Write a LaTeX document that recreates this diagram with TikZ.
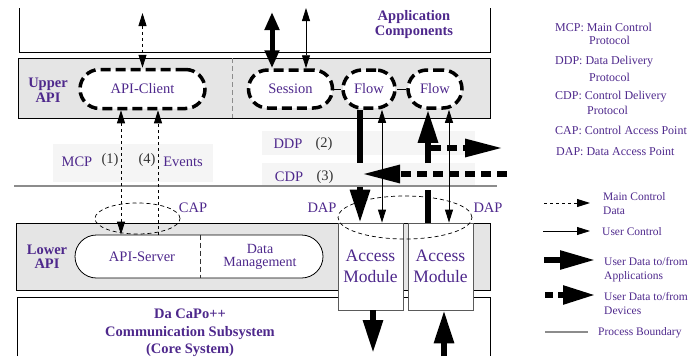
\documentclass[tikz,border=0pt]{standalone}
\usepackage{fontspec}
\setmainfont{Liberation Serif}
\usetikzlibrary{arrows.meta,shapes.geometric}
\definecolor{ink}{RGB}{78,40,140}
\definecolor{numgray}{RGB}{50,50,50}
\definecolor{bandfill}{RGB}{229,229,229}
\definecolor{notefill}{RGB}{245,245,245}
\definecolor{boundary}{RGB}{140,140,140}
\definecolor{modline}{RGB}{90,90,90}

\tikzset{
  txt/.style={text=ink, inner sep=0pt, font=\fontsize{14.5}{16}\selectfont},
  num/.style={text=numgray, inner sep=0pt, font=\fontsize{14.5}{16}\selectfont},
  heading/.style={text=ink, inner sep=0pt, align=center, font=\fontsize{14.5}{15}\selectfont\bfseries},
  keytext/.style={text=ink, inner sep=0pt, anchor=west, font=\fontsize{12}{13}\selectfont},
  keysmall/.style={text=ink, inner sep=0pt, anchor=west, align=left, font=\fontsize{11.5}{14}\selectfont},
  entity/.style={draw, line width=3.5pt, dash pattern=on 10pt off 5pt, fill=white, text=ink,
    inner sep=0pt, font=\fontsize{14.5}{16}\selectfont, minimum height=38pt, rounded corners=19pt},
  band/.style={draw, line width=0.8pt, fill=bandfill},
  note/.style={fill=notefill, inner sep=0pt},
  module/.style={draw=modline, line width=0.8pt, fill=white, text=ink, align=center,
    minimum width=65pt, minimum height=87pt, inner sep=0pt, font=\fontsize{17.5}{20.5}\selectfont},
  accesspt/.style={draw, ellipse, line width=0.7pt, dash pattern=on 4pt off 3pt, inner sep=0pt},
  ctl/.style={line width=0.9pt, dash pattern=on 3pt off 3pt, >={Triangle[length=13pt,width=8pt]}},
  usr/.style={line width=0.8pt, >={Triangle[length=13pt,width=8pt]}},
  sess/.style={line width=5pt, >={Triangle[length=18pt,width=14pt]}},
  appd/.style={line width=6pt, >={Triangle[length=33pt,width=19pt]}},
  devd/.style={line width=6pt, dash pattern=on 10pt off 6pt, >={Triangle[length=38pt,width=17pt]}},
}

\begin{document}
\begin{tikzpicture}[x=1pt,y=-1pt]
\useasboundingbox (0,0) rectangle (700,356);

% layers: application area, upper API, lower API, core system
\draw[line width=0.8pt] (19,8) -- (19,52) -- (490,52) -- (490,8);
\draw[band] (18,58) rectangle (490,118);
\draw[boundary, line width=0.8pt, dash pattern=on 5pt off 3pt] (232,58) -- (232,118);
\draw[band] (16,223) rectangle (490,290);
\draw[line width=0.8pt] (17,356) -- (17,297) -- (490,297) -- (490,356);

% protocol strips
\node[note, minimum width=160pt, minimum height=38pt] (mcpbox) at (133,163) {};
\node[note, minimum width=213pt, minimum height=24pt] (ddpbox) at (368.5,143) {};
\node[note, minimum width=213pt, minimum height=24pt] (cdpbox) at (368.5,175) {};

% process boundary
\draw[boundary, line width=2.5pt] (14,186) -- (497,186);

% upper API entities
\node[entity, minimum width=125pt, rounded corners=19.5pt, minimum height=39pt] (client) at (142.5,89) {API-Client};
\node[entity, minimum width=84pt] (session) at (290.5,89) {Session};
\node[entity, minimum width=52pt] (flow1) at (369,89) {Flow};
\node[entity, minimum width=54pt] (flow2) at (435,89) {Flow};
\draw[line width=0.8pt] (session.east) -- (flow1.west);
\draw[line width=0.8pt] (flow1.east) -- (flow2.west);

% lower API entities
\node[draw, line width=0.8pt, fill=white, rounded corners=21.5pt, minimum width=248pt,
      minimum height=43pt, inner sep=0pt] (server) at (199,256.5) {};
\draw[numgray, line width=0.8pt, dash pattern=on 5pt off 3pt] ([xshift=1pt]server.north) -- ([xshift=1pt]server.south);
\node[txt] (servertext) at (142,257) {API-Server};
\node[txt, align=center, font=\fontsize{14}{13}\selectfont] (datamgmt) at (260,257) {Data\\Management};
\node[module] (am1) at (370.5,266.5) {Access\\Module};
\node[module] (am2) at (440.5,266.5) {Access\\Module};

% free ends of connectors
\coordinate (appA) at (142.5,13);
\coordinate (appB) at (272,12);
\coordinate (appC) at (306,8);
\coordinate (f1gap) at (360,163);
\coordinate (f1resume) at (360,187);
\coordinate (f2gap) at (428,163);
\coordinate (f2resume) at (428,190);
\coordinate (ddpA) at (431,148);
\coordinate (ddpB) at (503,148);
\coordinate (cdpA) at (507,174);
\coordinate (cdpB) at (362,174);
\coordinate (devout) at (373,353);
\coordinate (devin) at (444,356);

% application side
\draw[ctl,<->] (appA) -- (client.north);
\draw[sess,<->] (appB) -- ([xshift=-18.5pt]session.north);
\draw[usr,<->] (appC) -- ([xshift=15.5pt]session.north);

% main control protocol
\draw[ctl,<->] ([xshift=-21.5pt]client.south) -- ([xshift=-78pt]server.north);
\draw[ctl,->] ([xshift=-41pt]server.north) -- ([xshift=15.5pt]client.south);

% data paths through the flows
\draw[appd] ([xshift=-9pt]flow1.south) -- (f1gap);
\draw[appd,->] (f1resume) -- ([xshift=-10.5pt]am1.north);
\draw[usr,<->] ([xshift=13pt]flow1.south) -- ([xshift=11.5pt]am1.north);
\draw[appd] ([xshift=-12.5pt]am2.north) -- (f2resume);
\draw[appd,->] (f2gap) -- ([xshift=-7pt]flow2.south);
\draw[usr,<->] ([xshift=14pt]flow2.south) -- ([xshift=8.5pt]am2.north);
\draw[devd,->] (ddpA) -- (ddpB);
\draw[devd,->] (cdpA) -- (cdpB);

% device side
\draw[appd,->] ([xshift=2.5pt]am1.south) -- (devout);
\draw[appd,->] (devin) -- ([xshift=3.5pt]am2.south);

% access points
\node[accesspt, minimum width=85pt, minimum height=31pt] (cap) at (137.5,218.5) {};
\node[accesspt, minimum width=134pt, minimum height=43pt] (dap) at (405,217.5) {};

% labels
\node[heading] (applabel) at (414,25) {Application\\Components};
\node[heading] (upperlabel) at (48,90) {Upper\\API};
\node[heading, font=\fontsize{14.5}{14}\selectfont\bfseries] (lowerlabel) at (47,257) {Lower\\API};
\node[heading, font=\fontsize{14.5}{17.5}\selectfont\bfseries] (corelabel) at (190,333) {Da CaPo++\\Communication Subsystem\\(Core System)};
\node[txt] (mcplabel) at (77,162) {MCP};
\node[num] (one) at (110,160) {(1)};
\node[num] (four) at (147,160) {(4)};
\node[txt] (events) at (183,162) {Events};
\node[txt] (ddplabel) at (288,144) {DDP};
\node[num] (two) at (324,144) {(2)};
\node[txt] (cdplabel) at (289,177) {CDP};
\node[num] (three) at (325,177) {(3)};
\node[txt] (caplabel) at (193,208) {CAP};
\node[txt] (daplabelA) at (322,208) {DAP};
\node[txt] (daplabelB) at (488,208) {DAP};

% abbreviations
\node[keytext] (kmcp) at (555,27) {MCP: Main Control};
\node[keytext] (kmcp2) at (589,40) {Protocol};
\node[keytext] (kddp) at (555,62) {DDP: Data Delivery};
\node[keytext] (kddp2) at (589,77) {Protocol};
\node[keytext] (kcdp) at (555,97) {CDP: Control Delivery};
\node[keytext] (kcdp2) at (587,110) {Protocol};
\node[keytext] (kcap) at (555,130) {CAP: Control Access Point};
\node[keytext] (kdap) at (556,152) {DAP: Data Access Point};

% line key
\draw[ctl,->] (544,203) -- (590,203);
\node[keysmall] (lctl) at (603,204) {Main Control\\Data};
\draw[usr,->] (543,231) -- (590,231);
\node[keysmall] (lusr) at (602,232) {User Control};
\draw[line width=5.5pt, >={Triangle[length=35pt,width=18pt]},->] (544,260) -- (595,260);
\node[keysmall] (lapp) at (604,270) {User Data to/from\\Applications};
\draw[line width=5.5pt, dash pattern=on 8pt off 5pt, >={Triangle[length=32pt,width=18pt]},->] (545,295) -- (595,295);
\node[keysmall] (ldev) at (604,303.5) {User Data to/from\\Devices};
\draw[boundary, line width=2.5pt] (545,332) -- (588,332);
\node[keysmall] (lbnd) at (598,333) {Process Boundary};
\end{tikzpicture}
\end{document}
